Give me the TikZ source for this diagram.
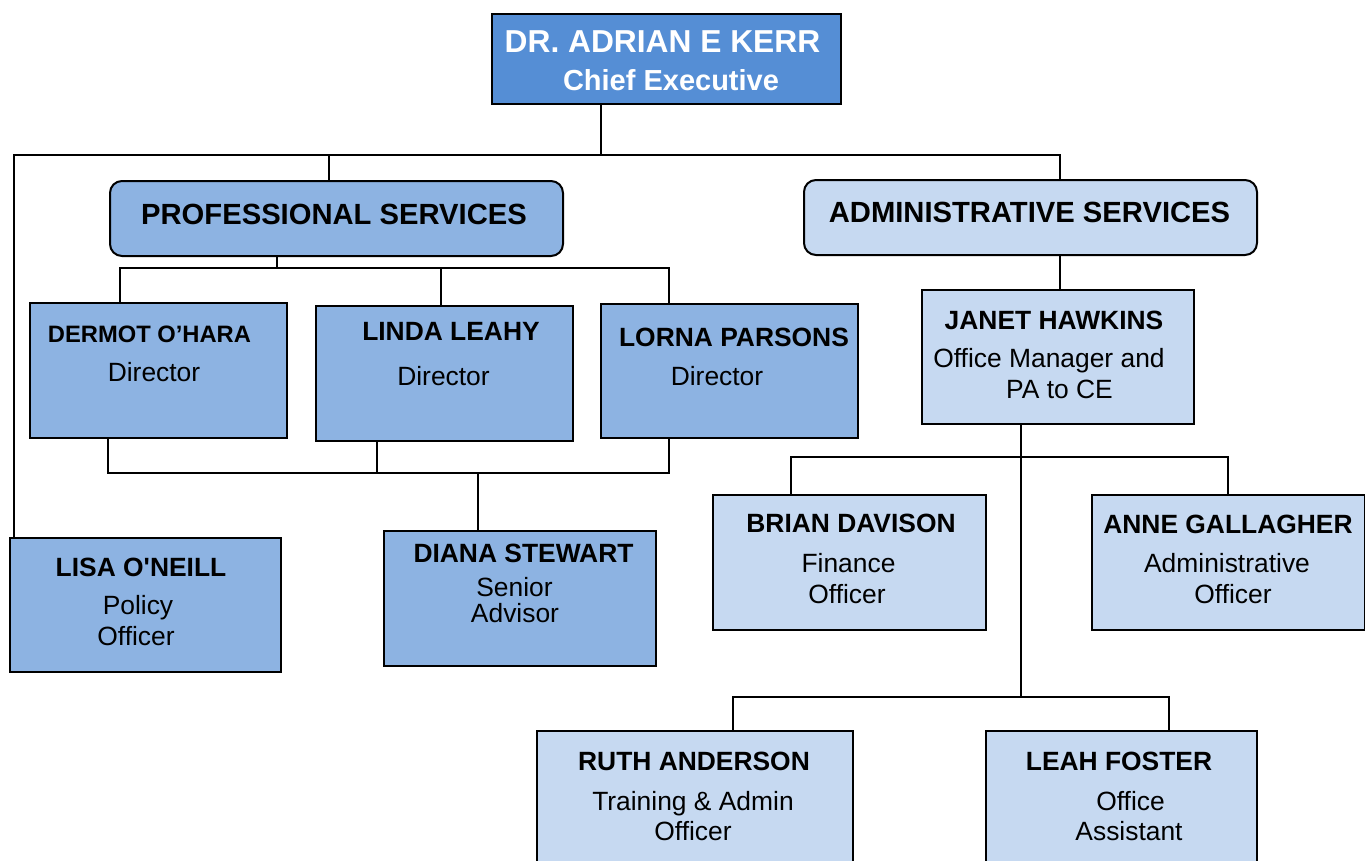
\documentclass[tikz,border=0pt]{standalone}
\usepackage{fontspec}
\setmainfont{Liberation Sans}
\definecolor{ceblue}{HTML}{558ED5}
\definecolor{midblue}{HTML}{8DB3E2}
\definecolor{paleblue}{HTML}{C6D9F1}
\begin{document}
\begin{tikzpicture}[x=0.75pt,y=-0.75pt,
  box/.style={draw=black, line width=1.5pt, inner sep=0pt, anchor=north west},
  conn/.style={draw=black, line width=1.4pt},
  nm/.style={anchor=base, inner sep=0pt, font=\bfseries\fontsize{19.8}{22}\selectfont},
  sub/.style={anchor=base, inner sep=0pt, font=\fontsize{19.8}{22}\selectfont}]
\useasboundingbox (0,0) rectangle (1365,861);
\clip (0,0) rectangle (1365,861);

% boxes
\node[box, fill=ceblue, minimum width=261.75pt, minimum height=67.5pt] (ce) at (491,13) {};
\node[box, fill=midblue, rounded corners=9pt, minimum width=339.75pt, minimum height=56.25pt] (prof) at (109,180) {};
\node[box, fill=paleblue, rounded corners=9pt, minimum width=339.75pt, minimum height=56.25pt] (admin) at (803,179) {};
\node[box, fill=midblue, minimum width=192.75pt, minimum height=101.25pt] (dermot) at (29,302) {};
\node[box, fill=midblue, minimum width=192.75pt, minimum height=101.25pt] (linda) at (315,305) {};
\node[box, fill=midblue, minimum width=192.75pt, minimum height=100.5pt] (lorna) at (600,303) {};
\node[box, fill=paleblue, minimum width=204pt, minimum height=100.5pt] (janet) at (921,289) {};
\node[box, fill=paleblue, minimum width=204.75pt, minimum height=101.25pt] (brian) at (712,494) {};
\node[box, fill=paleblue, minimum width=204.75pt, minimum height=101.25pt] (anne) at (1091,494) {};
\node[box, fill=midblue, minimum width=203.25pt, minimum height=100.5pt] (lisa) at (9,537) {};
\node[box, fill=midblue, minimum width=204pt, minimum height=101.25pt] (diana) at (383,530) {};
\node[box, fill=paleblue, minimum width=237pt, minimum height=120pt] (ruth) at (536,730) {};
\node[box, fill=paleblue, minimum width=203.25pt, minimum height=120pt] (leah) at (985,730) {};

% junction coordinates
\coordinate (cej) at (601,155);
\coordinate (lt) at (14,155);
\coordinate (pt) at (329,155);
\coordinate (at) at (1060,155);
\coordinate (pb) at (277,268);
\coordinate (dl) at (120,268);
\coordinate (dm) at (441,268);
\coordinate (dr) at (669,268);
\coordinate (ul) at (108,473);
\coordinate (um) at (377,473);
\coordinate (ur) at (669,473);
\coordinate (ud) at (478,473);
\coordinate (aj) at (1060,270);
\coordinate (jv) at (1021,457);
\coordinate (jb) at (1021,697);
\coordinate (bl) at (791,457);
\coordinate (br) at (1228,457);
\coordinate (rl) at (733,697);
\coordinate (rr) at (1169,697);

% connectors
\draw[conn] (cej |- ce.south) -- (cej);
\draw[conn] (lt |- lisa.north) -- (lt) -- (at) -- (at |- admin.north);
\draw[conn] (pt) -- (pt |- prof.north);
\draw[conn] (pb |- prof.south) -- (pb);
\draw[conn] (dl |- dermot.north) -- (dl) -- (dr) -- (dr |- lorna.north);
\draw[conn] (dm) -- (dm |- linda.north);
\draw[conn] (ul |- dermot.south) -- (ul) -- (ur) -- (ur |- lorna.south);
\draw[conn] (um |- linda.south) -- (um);
\draw[conn] (ud) -- (ud |- diana.north);
\draw[conn] (aj |- admin.south) -- (aj |- janet.north);
\draw[conn] (jv |- janet.south) -- (jb);
\draw[conn] (bl |- brian.north) -- (bl) -- (br) -- (br |- anne.north);
\draw[conn] (rl |- ruth.north) -- (rl) -- (rr) -- (rr |- leah.north);

% texts
\node[anchor=base, inner sep=0pt, text=white, font=\bfseries\fontsize{23.8}{26}\selectfont] (t1) at (662.5,52) {DR. ADRIAN E KERR};
\node[anchor=base, inner sep=0pt, text=white, font=\bfseries\fontsize{21.75}{24}\selectfont] (t2) at (671,90) {Chief Executive};
\node[anchor=base, inner sep=0pt, font=\bfseries\fontsize{21.9}{24}\selectfont] (t3) at (334,224) {PROFESSIONAL SERVICES};
\node[anchor=base, inner sep=0pt, font=\bfseries\fontsize{21.9}{24}\selectfont] (t4) at (1029.5,222) {ADMINISTRATIVE SERVICES};
\node[nm, font=\bfseries\fontsize{17.8}{20}\selectfont] (t5) at (149.5,342) {DERMOT O’HARA};
\node[sub] (t6) at (154,381) {Director};
\node[nm] (t7) at (451,340) {LINDA LEAHY};
\node[sub] (t8) at (443.5,385) {Director};
\node[nm] (t9) at (734,346) {LORNA PARSONS};
\node[sub] (t10) at (717,385) {Director};
\node[nm] (t11) at (1054,329) {JANET HAWKINS};
\node[sub] (t12) at (1049,367) {Office Manager and};
\node[sub] (t13) at (1059.5,398) {PA to CE};
\node[nm] (t14) at (851,532) {BRIAN DAVISON};
\node[sub] (t15) at (848.5,572) {Finance};
\node[sub] (t16) at (847,603) {Officer};
\node[nm] (t17) at (1228,533) {ANNE GALLAGHER};
\node[sub] (t18) at (1227,572) {Administrative};
\node[sub] (t19) at (1233,603) {Officer};
\node[nm] (t20) at (141,576) {LISA O\textquotesingle NEILL};
\node[sub] (t21) at (138,614) {Policy};
\node[sub] (t22) at (136,645) {Officer};
\node[nm] (t23) at (523.5,562) {DIANA STEWART};
\node[sub] (t24) at (514.5,596) {Senior};
\node[sub] (t25) at (515,622) {Advisor};
\node[nm] (t26) at (694,770) {RUTH ANDERSON};
\node[sub] (t27) at (693,810) {Training \& Admin};
\node[sub] (t28) at (693,840) {Officer};
\node[nm] (t29) at (1119,770) {LEAH FOSTER};
\node[sub] (t30) at (1130.5,810) {Office};
\node[sub] (t31) at (1129,840) {Assistant};
\end{tikzpicture}
\end{document}
